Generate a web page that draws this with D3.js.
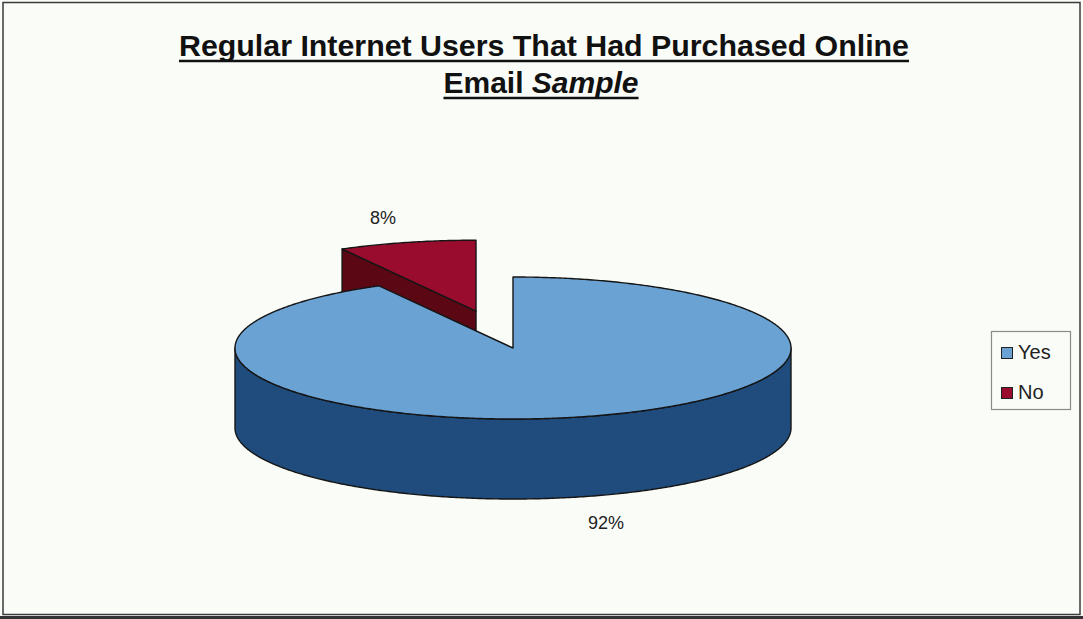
<!DOCTYPE html>
<html>
<head>
<meta charset="utf-8">
<script src="https://cdn.jsdelivr.net/npm/d3@7"></script>
<style>
  html, body { margin: 0; padding: 0; background: #ffffff; }
  svg { display: block; }
</style>
</head>
<body>
<svg id="chart" width="1083" height="619"></svg>
<script>
// ---- data ----
const categories = ["Yes", "No"];
const values = [92, 8];
const valueLabels = ["92%", "8%"];
const titleLine1 = "Regular Internet Users That Had Purchased Online";
const titleLine2a = "Email ";
const titleLine2b = "Sample";

// ---- styles ----
const topColors = ["#6aa2d4", "#9a0c2e"];
const sideColors = ["#1f4c7c", "#5c0814"];
const explode = [0, 0.535];

const W = 1083, H = 619;
const svg = d3.select("#chart");

svg.append("rect").attr("x", 0).attr("y", 0).attr("width", W).attr("height", H).attr("fill", "#fafcf8");
svg.append("rect").attr("x", 3).attr("y", 2.5).attr("width", 1077).attr("height", 612)
  .attr("fill", "none").attr("stroke", "#3a3a3a").attr("stroke-width", 1.5);
svg.append("line").attr("x1", 0).attr("x2", W).attr("y1", 617.5).attr("y2", 617.5)
  .attr("stroke", "#333").attr("stroke-width", 3);

// ---- title ----
const tf = "'Liberation Sans', Arial, sans-serif";
const t1 = svg.append("text").attr("x", 544).attr("y", 56).attr("text-anchor", "middle")
  .attr("font-family", tf).attr("font-weight", "bold").attr("font-size", 30).attr("fill", "#111")
  .attr("textLength", 730).attr("lengthAdjust", "spacingAndGlyphs")
  .text(titleLine1);
const t2 = svg.append("text").attr("x", 541).attr("y", 93).attr("text-anchor", "middle")
  .attr("font-family", tf).attr("font-weight", "bold").attr("font-size", 30).attr("fill", "#111");
t2.append("tspan").text(titleLine2a);
t2.append("tspan").attr("font-style", "italic").text(titleLine2b);
[[t1, 61], [t2, 98]].forEach(([t, y]) => {
  const b = t.node().getBBox();
  svg.append("line").attr("x1", b.x).attr("x2", b.x + b.width).attr("y1", y).attr("y2", y)
    .attr("stroke", "#111").attr("stroke-width", 2.5);
});

// ---- 3D pie ----
const cx = 513, cy = 348, rx = 278, ry = 71, depth = 80;
const pie = d3.pie().sort(null).startAngle(0).endAngle(2 * Math.PI);
const arcs = pie(values);

function offsetOf(i) {
  const a = arcs[i];
  const m = (a.startAngle + a.endAngle) / 2;
  return [explode[i] * rx * Math.sin(m), -explode[i] * ry * Math.cos(m)];
}
function pt(theta, off, z) {
  return [cx + off[0] + rx * Math.sin(theta), cy + off[1] - ry * Math.cos(theta) + z];
}
function arcPts(a0, a1, off, z) {
  const n = Math.max(2, Math.ceil(Math.abs(a1 - a0) / 0.01));
  return d3.range(n + 1).map(k => pt(a0 + (a1 - a0) * k / n, off, z));
}
const line = d3.line().curve(d3.curveLinear);
const strokeC = "#151515", strokeW = 1.4;

const g = svg.append("g");
// draw order: exploded (back) slice first, then main slice
const order = [1, 0];
order.forEach(i => {
  const a = arcs[i];
  const off = offsetOf(i);
  const c0 = [cx + off[0], cy + off[1]];
  const c1 = [c0[0], c0[1] + depth];
  // radial faces: visible when their outward normal points down the screen
  [a.startAngle, a.endAngle].forEach((ang, k) => {
    const p0 = pt(ang, off, 0), p1 = pt(ang, off, depth);
    const sy = k === 0 ? -Math.sin(ang) : Math.sin(ang);
    if (sy > 0.01) {
      g.append("path").attr("d", line([c0, p0, p1, c1]) + "Z")
        .attr("fill", sideColors[i]).attr("stroke", strokeC).attr("stroke-width", strokeW)
        .attr("stroke-linejoin", "round");
    }
  });
  // outer wall: visible part between PI/2 and 3PI/2
  const w0 = Math.max(a.startAngle, Math.PI / 2), w1 = Math.min(a.endAngle, 3 * Math.PI / 2);
  if (w1 > w0) {
    const topP = arcPts(w0, w1, off, 0);
    const botP = arcPts(w1, w0, off, depth);
    g.append("path").attr("d", line(topP.concat(botP)) + "Z")
      .attr("fill", sideColors[i]).attr("stroke", strokeC).attr("stroke-width", strokeW)
      .attr("stroke-linejoin", "round");
  }
  // top face
  const tp = [c0].concat(arcPts(a.startAngle, a.endAngle, off, 0));
  g.append("path").attr("d", line(tp) + "Z")
    .attr("fill", topColors[i]).attr("stroke", strokeC).attr("stroke-width", strokeW)
    .attr("stroke-linejoin", "round");
});

// ---- value labels ----
const lf = "'Liberation Sans', Arial, sans-serif";
const labelPos = [
  { i: 0, x: 606, y: 529 },
  { i: 1, x: 383, y: 224 }
];
labelPos.forEach(d => {
  svg.append("text").attr("x", d.x).attr("y", d.y).attr("text-anchor", "middle")
    .attr("font-family", lf).attr("font-size", 18).attr("fill", "#222").text(valueLabels[d.i]);
});

// ---- legend ----
const lg = svg.append("g");
lg.append("rect").attr("x", 991.5).attr("y", 331.5).attr("width", 79).attr("height", 78)
  .attr("fill", "#fafcf8").attr("stroke", "#8a8a8a").attr("stroke-width", 1.2);
categories.forEach((c, i) => {
  const y = 347 + i * 40;
  lg.append("rect").attr("x", 1001.5).attr("y", y + 0.5).attr("width", 11).attr("height", 11)
    .attr("fill", topColors[i]).attr("stroke", "#222").attr("stroke-width", 1);
  lg.append("text").attr("x", 1018).attr("y", y + 12).attr("font-family", lf)
    .attr("font-size", 20).attr("fill", "#222").text(c);
});
</script>
</body>
</html>
